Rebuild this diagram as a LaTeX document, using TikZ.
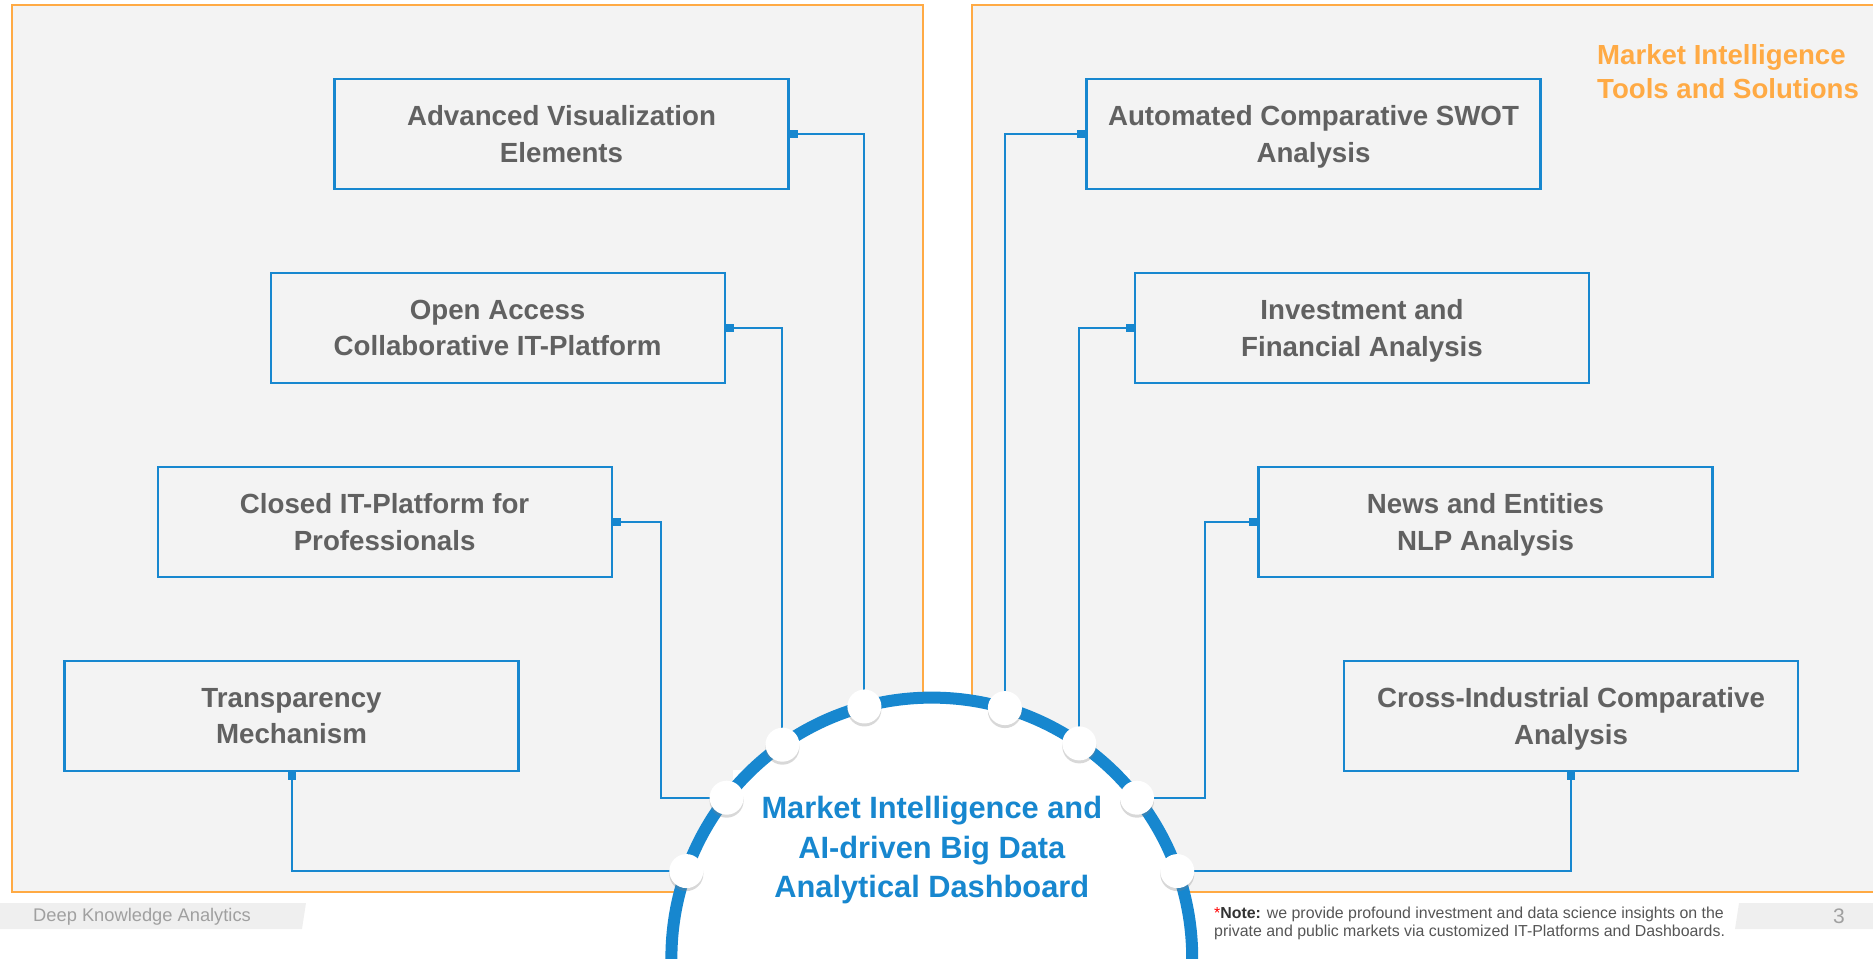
\documentclass[tikz,border=0pt]{standalone}
\usepackage{fontspec}
\setmainfont{Liberation Sans}
\usetikzlibrary{calc,shadows,arrows.meta}
\definecolor{dkablue}{RGB}{23,135,207}
\definecolor{dkaorange}{RGB}{255,170,68}
\definecolor{dkapanel}{RGB}{243,243,243}
\definecolor{dkagray}{RGB}{97,97,97}
\definecolor{dkafoot}{RGB}{160,160,160}
\definecolor{dkaband}{RGB}{239,239,239}
\definecolor{dkanote}{RGB}{85,85,85}
\definecolor{dkadark}{RGB}{51,51,51}

\begin{document}
\begin{tikzpicture}[x=1pt,y=-1pt,
  panel/.style={draw=dkaorange,fill=dkapanel,line width=2.5pt},
  tool/.style={shape=rectangle,draw=dkablue,fill=dkapanel,line width=2.2pt,minimum width=454pt,minimum height=110pt,inner sep=0pt,align=center,text=dkagray,font=\fontsize{27.7}{36.7}\selectfont\bfseries},
  link/.style={{Square[length=8pt,width=8pt]}-,draw=dkablue,line width=2pt},
  dot/.style={shape=circle,fill=white,minimum size=34pt,inner sep=0pt,drop shadow={shadow xshift=0pt,shadow yshift=-3pt,opacity=0.3}}]
\useasboundingbox (0,0) rectangle (1873,958);

\draw[panel] (12,5) rectangle (923,892);
\draw[panel] (972,5) rectangle (1890,892);
\node[anchor=north west,align=left,inner sep=0pt,text=dkaorange,font=\fontsize{27.6}{34}\selectfont\bfseries] (title) at (1597,44.4) {Market Intelligence\\Tools and Solutions};

\node[tool] (0) at (561.5,133.8) {Advanced Visualization\\Elements};
\node[tool] (1) at (497.6,328) {Open Access\\Collaborative IT-Platform};
\node[tool] (2) at (384.6,522) {Closed IT-Platform for\\Professionals};
\node[tool] (3) at (291.5,716.2) {Transparency\\Mechanism};
\node[tool] (4) at (1313.5,133.8) {Automated Comparative SWOT\\\smash{Analysis}};
\node[tool] (5) at (1362,328) {Investment and\\\smash{Financial Analysis}};
\node[tool] (6) at (1485.5,522) {News and Entities\\\smash{NLP Analysis}};
\node[tool] (7) at (1571,716.2) {Cross-Industrial Comparative\\\smash{Analysis}};

\coordinate (hub) at (931.8,958);
\foreach \n/\a in {0/105,1/125,2/142,3/160.5,4/73.7,5/55.5,6/38,7/19.5}
  \coordinate (p\n) at ($(hub)+(\a:260.4pt)$);

\draw[link] (0.east) -| (p0);
\draw[link] (1.east) -| (p1);
\draw[link] (2.east) -- ++(47.8,0) |- (p2);
\draw[link] (3.south) |- (p3);
\draw[link] (4.west) -| (p4);
\draw[link] (5.west) -| (p5);
\draw[link] (6.west) -- ++(-52.5,0) |- (p6);
\draw[link] (7.south) |- (p7);

\fill[white] (733,770) rectangle (1130,958);
\draw[draw=dkablue,fill=white,line width=12pt] (hub) circle[radius=260.4pt];
\foreach \n in {0,...,7}
  \node[dot] (d\n) at (p\n) {};
\node[align=center,inner sep=0pt,text=dkablue,font=\fontsize{30.8}{39.5}\selectfont\bfseries] (hubtext) at (931.8,850.5) {Market Intelligence and\\AI-driven Big Data\\Analytical Dashboard};

\fill[dkaband] (0,903) -- (306,903) -- (302,929) -- (0,929) -- cycle;
\node[anchor=base west,inner sep=0pt,text=dkafoot,font=\fontsize{18.3}{22}\selectfont] (brand) at (33,921) {Deep Knowledge Analytics};
\fill[dkaband] (1739,903) -- (1880,903) -- (1880,929) -- (1735,929) -- cycle;
\node[anchor=base,inner sep=0pt,text=dkafoot,font=\fontsize{21}{24}\selectfont] (page) at (1839,923) {3};
\node[anchor=base west,inner sep=0pt,text=dkanote,font=\fontsize{15.9}{18}\selectfont] (note1) at (1214,918) {\textcolor{red}{*}\textbf{\textcolor{dkadark}{Note:}} we provide profound investment and data science insights on the};
\node[anchor=base west,inner sep=0pt,text=dkanote,font=\fontsize{15.9}{18}\selectfont] (note2) at (1214,936) {private and public markets via customized IT-Platforms and Dashboards.};
\end{tikzpicture}
\end{document}
